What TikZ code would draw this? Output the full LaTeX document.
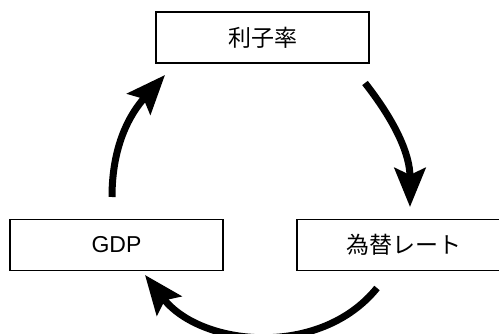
\documentclass[tikz,border=0pt]{standalone}
\usepackage{fontspec}
\setmainfont{Liberation Sans}
\newfontfamily\jpfont{Noto Sans CJK JP}
\usetikzlibrary{arrows.meta}
\tikzset{
  box/.style={draw=black, line width=1.3pt, minimum width=213pt, minimum height=51pt, inner sep=0pt, font=\fontsize{23}{26}\selectfont},
  cyc/.style={line width=7pt, -{Stealth[length=39pt, width=31pt, inset=7pt]}}
}
\begin{document}
\begin{tikzpicture}[x=1pt,y=1pt]
\useasboundingbox (0,0) rectangle (499,333);
\fill[white] (0,0) rectangle (499,333);
\node[box] (rate) at (262.5,295.5) {\jpfont 利子率};
\node[box] (gdp) at (116.5,88) {GDP};
\node[box] (fx) at (403.5,88) {\jpfont 為替レート};
\coordinate (ls) at (112,136);
\coordinate (le) at (165,258);
\coordinate (rs) at (365,250);
\coordinate (re) at (410,126);
\coordinate (bs) at (377,45);
\coordinate (be) at (145,58);
\draw[cyc] (ls) to[out=90,in=-132] (le);
\draw[cyc] (rs) to[out=-52,in=90] (re);
\draw[cyc] (bs) to[out=-129,in=-52] (be);
\end{tikzpicture}
\end{document}
